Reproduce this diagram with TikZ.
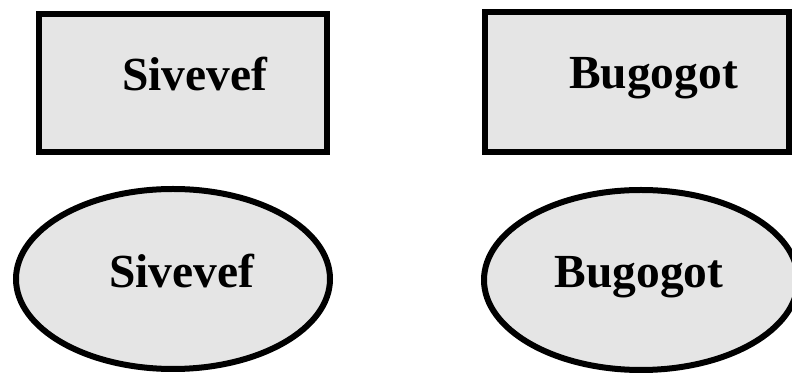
\documentclass[tikz,border=0pt]{standalone}
\usepackage{fontspec}
\setmainfont{Liberation Serif}
\usetikzlibrary{shapes.geometric}
\definecolor{shapefill}{HTML}{E5E5E5}
\tikzset{
  shapebox/.style={draw=black, fill=shapefill, line width=4.5pt, rectangle, inner sep=0pt},
  shapeoval/.style={draw=black, fill=shapefill, line width=4.5pt, ellipse, inner sep=0pt},
  lbl/.style={anchor=base, inner sep=0pt, font=\fontsize{35.6pt}{40pt}\selectfont\bfseries}
}
\begin{document}
\begin{tikzpicture}[x=0.75pt, y=-0.75pt]
\useasboundingbox (0,0) rectangle (792,373);
\clip (0,0) rectangle (792,373);
\node[shapebox, minimum width=216pt, minimum height=103.5pt] (r1) at (183,83) {};
\node[shapebox, minimum width=228pt, minimum height=105pt] (r2) at (637,82) {};
\node[shapeoval, minimum width=235.5pt, minimum height=135pt] (e1) at (173,279) {};
\node[shapeoval, minimum width=235.5pt, minimum height=135pt] (e2) at (641,280) {};
\node[lbl] (t1) at (194.5,91) {Sivevef};
\node[lbl] (t2) at (653.5,89) {Bugogot};
\node[lbl] (t3) at (181.5,288) {Sivevef};
\node[lbl] (t4) at (639,288) {Bugogot};
\end{tikzpicture}
\end{document}
